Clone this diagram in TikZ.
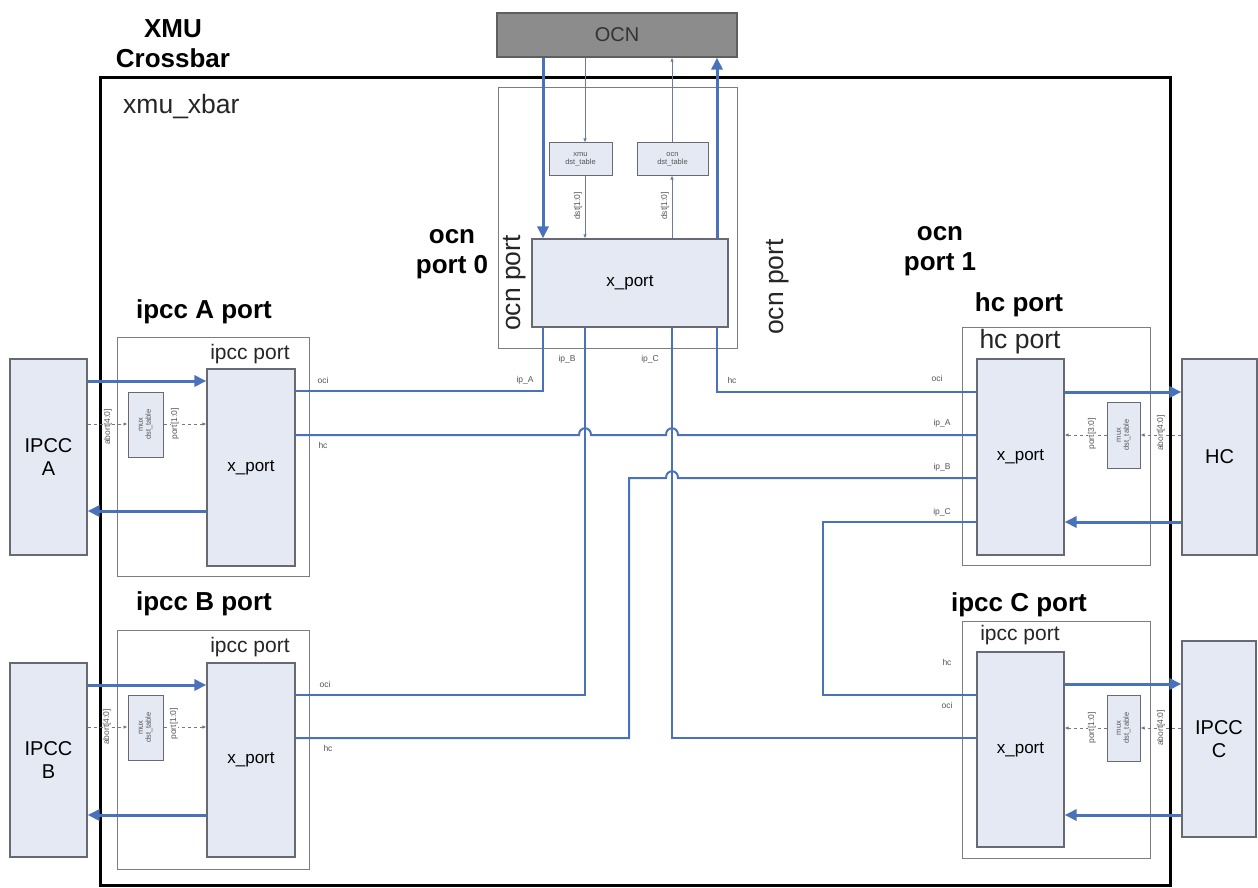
\documentclass[tikz,border=0pt]{standalone}
\usepackage{fontspec}
\setmainfont{Liberation Sans}
\usetikzlibrary{arrows.meta}
\definecolor{lblue}{RGB}{74,114,186}
\definecolor{xfill}{RGB}{229,233,244}
\definecolor{xborder}{RGB}{105,105,115}
\definecolor{pgray}{RGB}{125,125,125}
\definecolor{ocnfill}{RGB}{140,140,140}
\definecolor{ocnborder}{RGB}{95,95,95}
\definecolor{tgray}{RGB}{110,122,155}
\definecolor{lgray}{RGB}{85,85,85}
\definecolor{dgray}{RGB}{120,120,120}
\tikzset{
  xbox/.style={draw=xborder, fill=xfill, line width=1.2pt, inner sep=0pt, font=\fontsize{17}{19}\selectfont},
  extbox/.style={draw=xborder, fill=xfill, line width=1.2pt, inner sep=0pt, align=center, font=\fontsize{20}{23}\selectfont},
  portbox/.style={draw=pgray, line width=1pt, inner sep=0pt},
  dstbox/.style={draw=xborder, fill=xfill, line width=1pt, inner sep=0pt},
  dsttext/.style={align=center, inner sep=0pt, font=\fontsize{7.5}{8}\selectfont, text=lgray},
  route/.style={draw=lblue, line width=2pt},
  fat/.style={draw=lblue, line width=3pt, -{Triangle[length=12pt,width=11pt]}},
  thinarr/.style={draw=tgray, line width=0.8pt, -{Latex[length=4pt,width=3.5pt]}},
  dasharr/.style={draw=dgray, line width=0.8pt, dashed, -{Latex[length=4pt,width=3.5pt]}},
  sig/.style={font=\fontsize{8.5}{9}\selectfont, text=lgray, inner sep=0pt},
  rlab/.style={font=\fontsize{8.5}{9}\selectfont, text=lgray, inner sep=0pt, rotate=90},
  blab/.style={font=\bfseries\fontsize{26}{30}\selectfont, inner sep=0pt, align=center},
  ilab/.style={font=\fontsize{21}{24}\selectfont, inner sep=0pt, text=black!85},
  biglab/.style={font=\fontsize{26.5}{29}\selectfont, inner sep=0pt, text=black!85}
}
\begin{document}
\begin{tikzpicture}[x=1pt,y=-1pt]
\useasboundingbox (0,0) rectangle (1258,888);
\fill[white] (0,0) rectangle (1258,888);

% outer crossbar box
\node[draw=black, line width=3pt, minimum width=1070pt, minimum height=807pt, inner sep=0pt] (xbar) at (635,481.5) {};
\node[biglab, anchor=west] (xbarlab) at (123,107) {xmu\_xbar};
\node[blab] (title) at (173,44) {XMU\\Crossbar};

% OCN
\node[draw=ocnborder, fill=ocnfill, line width=1.2pt, minimum width=240pt, minimum height=44pt, inner sep=0pt, font=\fontsize{20}{22}\selectfont, text=black!80] (ocn) at (617,35) {OCN};

% ocn port
\node[portbox, minimum width=239pt, minimum height=260pt] (ocnport) at (617.5,218) {};
\node[xbox, minimum width=196pt, minimum height=88pt] (ocnx) at (630,283) {x\_port};
\node[dstbox, minimum width=63pt, minimum height=32pt] (xd) at (580.5,159) {};
\node[dsttext] (xdt) at (xd) {xmu\\dst\_table};
\node[dstbox, minimum width=71pt, minimum height=32pt] (od) at (672.5,159) {};
\node[dsttext] (odt) at (od) {ocn\\dst\_table};
\node[biglab, rotate=90] (ocnpl) at (515,283) {ocn port};
\node[biglab, rotate=90] (ocnpr) at (778,287) {ocn port};
\node[blab] (ocn0) at (452,254) {ocn\\port 0};
\node[blab] (ocn1) at (940,251) {ocn\\port 1};

% ipcc A port
\node[portbox, minimum width=192pt, minimum height=239pt] (pA) at (213,456.5) {};
\node[xbox, minimum width=88pt, minimum height=197pt] (ipAx) at (251,467.5) {x\_port};
\node[dstbox, minimum width=35pt, minimum height=65pt] (dA) at (145.5,424.5) {};
\node[dsttext, rotate=90] (dAt) at (dA) {mux\\dst\_table};
\node[extbox, minimum width=77pt, minimum height=196pt] (IA) at (48.5,457) {IPCC\\A};
\node[blab] (pAl) at (204,312) {ipcc A port};
\node[ilab] (pAi) at (250,354) {ipcc port};

% ipcc B port
\node[portbox, minimum width=192pt, minimum height=239pt] (pB) at (213,749.5) {};
\node[xbox, minimum width=88pt, minimum height=194pt] (ipBx) at (251,760) {x\_port};
\node[dstbox, minimum width=35pt, minimum height=65pt] (dB) at (145.5,727.5) {};
\node[dsttext, rotate=90] (dBt) at (dB) {mux\\dst\_table};
\node[extbox, minimum width=77pt, minimum height=194pt] (IB) at (48.5,760) {IPCC\\B};
\node[blab] (pBl) at (204,604) {ipcc B port};
\node[ilab] (pBi) at (250,647) {ipcc port};

% hc port
\node[portbox, minimum width=188pt, minimum height=238pt] (pH) at (1056,446) {};
\node[xbox, minimum width=87pt, minimum height=196pt] (hcx) at (1020.5,457) {x\_port};
\node[dstbox, minimum width=33pt, minimum height=66pt] (dH) at (1123.5,435) {};
\node[dsttext, rotate=90] (dHt) at (dH) {mux\\dst\_table};
\node[extbox, minimum width=75pt, minimum height=196pt] (HC) at (1219.5,457) {HC};
\node[blab] (pHl) at (1019,305) {hc port};
\node[biglab] (pHi) at (1020,342) {hc port};

% ipcc C port
\node[portbox, minimum width=188pt, minimum height=237pt] (pC) at (1056,739.5) {};
\node[xbox, minimum width=87pt, minimum height=195pt] (ipCx) at (1020.5,749.5) {x\_port};
\node[dstbox, minimum width=33pt, minimum height=66pt] (dC) at (1123.5,728) {};
\node[dsttext, rotate=90] (dCt) at (dC) {mux\\dst\_table};
\node[extbox, minimum width=74pt, minimum height=196pt] (IC) at (1219,739) {IPCC\\C};
\node[blab] (pCl) at (1019,605) {ipcc C port};
\node[ilab] (pCi) at (1020,635) {ipcc port};

% coordinates
\coordinate (xO1) at (543,0);
\coordinate (xO2) at (585,0);
\coordinate (xO3) at (672,0);
\coordinate (xO4) at (717,0);
\coordinate (yA1) at (0,381);
\coordinate (yA2) at (0,511);
\coordinate (yAd) at (0,424);
\coordinate (yB1) at (0,685);
\coordinate (yB2) at (0,815);
\coordinate (yBd) at (0,727);
\coordinate (yH1) at (0,392);
\coordinate (yH2) at (0,522);
\coordinate (yHd) at (0,435);
\coordinate (yC1) at (0,684);
\coordinate (yC2) at (0,815);
\coordinate (yCd) at (0,728);
\coordinate (rA) at (543,391);
\coordinate (rB) at (585,695);
\coordinate (rC) at (672,738);
\coordinate (rH) at (717,392);
\coordinate (rHC1) at (823,522);
\coordinate (rHC2) at (823,695);
\coordinate (rBH1) at (629,738);
\coordinate (rBH2) at (629,478);
\coordinate (yAhc) at (0,435);

% routing
\draw[route] (ocnx.south -| rA) -- (rA) -- (ipAx.east |- rA);
\draw[route] (ocnx.south -| rB) -- (rB) -- (ipBx.east |- rB);
\draw[route] (ocnx.south -| rC) -- (rC) -- (ipCx.west |- rC);
\draw[route] (ocnx.south -| rH) -- (rH) -- (hcx.west |- rH);
\draw[route] (hcx.west |- rHC1) -- (rHC1) -- (rHC2) -- (ipCx.west |- rHC2);
\draw[route] (ipAx.east |- yAhc) -- (579,435) .. controls (579,426) and (591,426) .. (591,435)
  -- (666,435) .. controls (666,426) and (678,426) .. (678,435) -- (hcx.west |- yAhc);
\draw[route] (ipBx.east |- rBH1) -- (rBH1) -- (rBH2) -- (666,478) .. controls (666,469) and (678,469) .. (678,478) -- (hcx.west |- rBH2);

% thick arrows
\draw[fat] (ocn.south -| xO1) -- (ocnx.north -| xO1);
\draw[fat] (ocnx.north -| xO4) -- (ocn.south -| xO4);
\draw[fat] (IA.east |- yA1) -- (ipAx.west |- yA1);
\draw[fat] (ipAx.west |- yA2) -- (IA.east |- yA2);
\draw[fat] (IB.east |- yB1) -- (ipBx.west |- yB1);
\draw[fat] (ipBx.west |- yB2) -- (IB.east |- yB2);
\draw[fat] (hcx.east |- yH1) -- (HC.west |- yH1);
\draw[fat] (HC.west |- yH2) -- (hcx.east |- yH2);
\draw[fat] (ipCx.east |- yC1) -- (IC.west |- yC1);
\draw[fat] (IC.west |- yC2) -- (ipCx.east |- yC2);

% thin ocn arrows
\draw[thinarr] (ocn.south -| xO2) -- (xd.north -| xO2);
\draw[thinarr] (xd.south -| xO2) -- (ocnx.north -| xO2);
\draw[thinarr] (ocnx.north -| xO3) -- (od.south -| xO3);
\draw[thinarr] (od.north -| xO3) -- (ocn.south -| xO3);
\node[rlab] (dsl) at (578,206) {dst[1:0]};
\node[rlab] (dsr) at (665,206) {dst[1:0]};

% dashed side arrows
\draw[dasharr] (IA.east |- yAd) -- (dA.west |- yAd);
\draw[dasharr] (dA.east |- yAd) -- (ipAx.west |- yAd);
\draw[dasharr] (IB.east |- yBd) -- (dB.west |- yBd);
\draw[dasharr] (dB.east |- yBd) -- (ipBx.west |- yBd);
\draw[dasharr] (HC.west |- yHd) -- (dH.east |- yHd);
\draw[dasharr] (dH.west |- yHd) -- (hcx.east |- yHd);
\draw[dasharr] (IC.west |- yCd) -- (dC.east |- yCd);
\draw[dasharr] (dC.west |- yCd) -- (ipCx.east |- yCd);
\node[rlab, fill=white, inner sep=0.5pt] (abA) at (108,427) {abort[4:0]};
\node[rlab, fill=white, inner sep=0.5pt] (poA) at (175,424) {port[1:0]};
\node[rlab, fill=white, inner sep=0.5pt] (abB) at (107,727) {abort[4:0]};
\node[rlab, fill=white, inner sep=0.5pt] (poB) at (174,724) {port[1:0]};
\node[rlab, fill=white, inner sep=0.5pt] (poH) at (1092,434) {port[3:0]};
\node[rlab, fill=white, inner sep=0.5pt] (abH) at (1161,433) {abort[4:0]};
\node[rlab, fill=white, inner sep=0.5pt] (poC) at (1092,728) {port[1:0]};
\node[rlab, fill=white, inner sep=0.5pt] (abC) at (1161,728) {abort[4:0]};

% signal labels
\node[sig] (l1) at (323,380) {oci};
\node[sig] (l2) at (323,445) {hc};
\node[sig] (l3) at (325,684) {oci};
\node[sig] (l4) at (328,748) {hc};
\node[sig] (l5) at (525,380) {ip\_A};
\node[sig] (l6) at (567,359) {ip\_B};
\node[sig] (l7) at (650,359) {ip\_C};
\node[sig] (l8) at (732,380) {hc};
\node[sig] (l9) at (937,378) {oci};
\node[sig] (l10) at (942,423) {ip\_A};
\node[sig] (l11) at (942,467) {ip\_B};
\node[sig] (l12) at (942,512) {ip\_C};
\node[sig] (l13) at (947,662) {hc};
\node[sig] (l14) at (947,705) {oci};
\end{tikzpicture}
\end{document}
